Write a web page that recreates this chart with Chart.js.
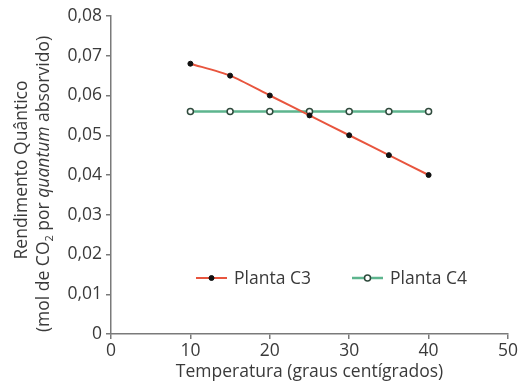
<!DOCTYPE html>
<html>
<head>
<meta charset="utf-8">
<script src="https://cdn.jsdelivr.net/npm/chart.js@4"></script>
<style>
  html, body { margin: 0; padding: 0; background: #fff; }
  #wrap { width: 520px; height: 381px; position: relative; }
</style>
</head>
<body>
<div id="wrap"><canvas id="yieldChart"></canvas></div>
<script>
const temperatures = [10, 15, 20, 25, 30, 35, 40];
const plantaC3 = [0.068, 0.065, 0.060, 0.055, 0.050, 0.045, 0.040];
const plantaC4 = [0.056, 0.056, 0.056, 0.056, 0.056, 0.056, 0.056];
const seriesLabels = ["Planta C3", "Planta C4"];
const xTitle = "Temperatura (graus centígrados)";

const FONT = "'Open Sans', sans-serif";
const SIZE = 17.5;
const TEXT = "#3a3a3a";
const AXIS = "#7a7a7a";
const RED = "#e8553e";
const GREEN = "#5db58e";

// y title with subscript and italic pieces, plus x title and inline legend
const decorations = {
  id: "decorations",
  afterDraw(chart) {
    const ctx = chart.ctx;
    const area = chart.chartArea;
    ctx.save();
    ctx.fillStyle = TEXT;
    ctx.textBaseline = "middle";

    // x axis title
    ctx.font = SIZE + "px " + FONT;
    ctx.textAlign = "center";
    ctx.fillText(xTitle, (area.left + area.right) / 2, 372);

    // y axis title (rotated)
    ctx.save();
    ctx.translate(22, 170);
    ctx.rotate(-Math.PI / 2);
    ctx.fillText("Rendimento Quântico", 0, 0);
    ctx.restore();

    const parts = [
      { t: "(mol de CO", f: SIZE + "px " + FONT, dy: 0 },
      { t: "2", f: "11px " + FONT, dy: 6 },
      { t: " por ", f: SIZE + "px " + FONT, dy: 0 },
      { t: "quantum", f: "italic " + SIZE + "px " + FONT, dy: 0 },
      { t: " absorvido)", f: SIZE + "px " + FONT, dy: 0 }
    ];
    let total = 0;
    parts.forEach(p => { ctx.font = p.f; p.w = ctx.measureText(p.t).width; total += p.w; });
    ctx.save();
    ctx.translate(44, 184);
    ctx.rotate(-Math.PI / 2);
    let x = -total / 2;
    ctx.textAlign = "left";
    parts.forEach(p => {
      ctx.font = p.f;
      ctx.fillText(p.t, x, p.dy);
      x += p.w;
    });
    ctx.restore();
    ctx.restore();

    // legend inside plot area
    const legendY = 278;
    const items = [
      { x: 196, ds: chart.data.datasets[0] },
      { x: 352, ds: chart.data.datasets[1] }
    ];
    ctx.save();
    items.forEach(it => {
      ctx.strokeStyle = it.ds.borderColor;
      ctx.lineWidth = it.ds.borderWidth;
      ctx.beginPath();
      ctx.moveTo(it.x, legendY);
      ctx.lineTo(it.x + 31, legendY);
      ctx.stroke();
      ctx.beginPath();
      ctx.arc(it.x + 15.5, legendY, it.ds.pointRadius, 0, Math.PI * 2);
      ctx.fillStyle = it.ds.pointBackgroundColor;
      ctx.fill();
      ctx.lineWidth = it.ds.pointBorderWidth;
      ctx.strokeStyle = it.ds.pointBorderColor;
      ctx.stroke();
      ctx.fillStyle = TEXT;
      ctx.font = SIZE + "px " + FONT;
      ctx.textAlign = "left";
      ctx.textBaseline = "middle";
      ctx.fillText(it.ds.label, it.x + 38, legendY + 1);
    });
    ctx.restore();
  }
};

new Chart(document.getElementById("yieldChart"), {
  type: "line",
  data: {
    datasets: [
      {
        label: seriesLabels[0],
        data: temperatures.map((t, i) => ({ x: t, y: plantaC3[i] })),
        borderColor: RED,
        borderWidth: 2,
        pointRadius: 2.5,
        pointBackgroundColor: "#111",
        pointBorderColor: "#111",
        pointBorderWidth: 1,
        tension: 0.25
      },
      {
        label: seriesLabels[1],
        data: temperatures.map((t, i) => ({ x: t, y: plantaC4[i] })),
        borderColor: GREEN,
        borderWidth: 2.5,
        pointRadius: 3,
        pointBackgroundColor: "#fff",
        pointBorderColor: "#2f4a3c",
        pointBorderWidth: 1.5,
        tension: 0
      }
    ]
  },
  options: {
    responsive: true,
    maintainAspectRatio: false,
    animation: false,
    layout: { padding: { top: 16, right: 11, left: 0, bottom: 0 } },
    plugins: {
      legend: { display: false },
      tooltip: { enabled: false }
    },
    scales: {
      x: {
        type: "linear",
        min: 0,
        max: 50,
        ticks: { stepSize: 10, color: TEXT, font: { size: SIZE, family: FONT }, padding: 2 },
        grid: { drawOnChartArea: false, color: AXIS, tickLength: 5, lineWidth: 1.5 },
        border: { color: AXIS, width: 1.5 },
        afterFit(scale) { scale.height = 47; }
      },
      y: {
        min: 0,
        max: 0.08,
        ticks: {
          stepSize: 0.01,
          color: TEXT,
          font: { size: SIZE, family: FONT },
          padding: 4,
          callback: v => v === 0 ? "0" : v.toFixed(2).replace(".", ",")
        },
        grid: { drawOnChartArea: false, color: AXIS, tickLength: 5, lineWidth: 1.5 },
        border: { color: AXIS, width: 1.5 },
        afterFit(scale) { scale.width = 111; }
      }
    }
  },
  plugins: [decorations]
});
</script>
</body>
</html>
